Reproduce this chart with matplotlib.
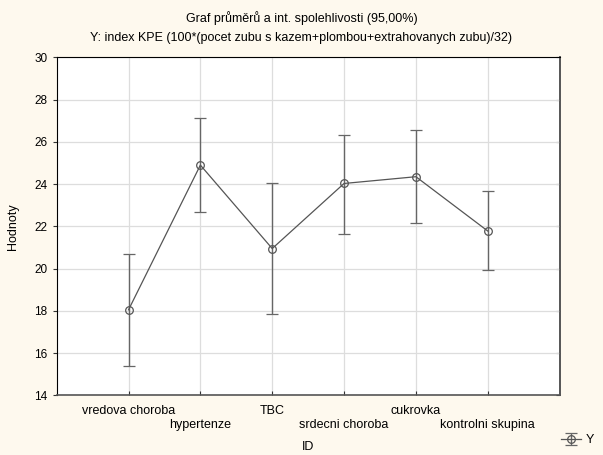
import matplotlib.pyplot as plt

plt.rcParams['font.family'] = ['Liberation Sans', 'DejaVu Sans']

# data
groups = ['vredova choroba', 'hypertenze', 'TBC', 'srdecni choroba', 'cukrovka', 'kontrolni skupina']
means = [18.05, 24.90, 20.95, 24.03, 24.35, 21.78]
upper = [20.69, 27.12, 24.03, 26.33, 26.54, 23.65]
lower = [15.39, 22.70, 17.87, 21.65, 22.16, 19.92]
yticks = [14, 16, 18, 20, 22, 24, 26, 28, 30]

bg = '#fef9ee'
x = list(range(1, len(groups) + 1))
err = [[m - l for m, l in zip(means, lower)], [u - m for m, u in zip(means, upper)]]

fig = plt.figure(figsize=(6.03, 4.55), dpi=100, facecolor=bg)
ax = fig.add_axes([0.094, 0.131, 0.834, 0.743])
ax.set_facecolor('white')

eb = ax.errorbar(x, means, yerr=err, fmt='-o', color='#555555', ecolor='#666666',
                 elinewidth=1.0, capsize=4, capthick=1.0, lw=0.9,
                 markersize=5.5, markerfacecolor='none', markeredgecolor='#555555',
                 markeredgewidth=0.9, label='Y')

ax.set_xlim(0, 7)
ax.set_ylim(14, 30)
ax.set_yticks(yticks)
ax.set_xticks(x)
ax.set_xticklabels([g if i % 2 == 0 else '\n' + g for i, g in enumerate(groups)],
                   linespacing=1.2)
ax.grid(True, color='#dddddd', lw=0.9)
ax.set_axisbelow(True)
ax.tick_params(axis='x', direction='in', labelsize=9, color='#333333', length=3, pad=7)
ax.tick_params(axis='y', which='both', left=True, right=False, direction='out',
               labelsize=8.5, color='#333333', length=3)
ax2 = ax.secondary_yaxis('right')
ax2.set_yticks(yticks)
ax2.tick_params(direction='in', length=3, labelright=False, color='#333333')
ax2.spines['right'].set_color('#555555')
ax2.spines['right'].set_linewidth(1.2)
for side in ['left', 'top']:
    ax.spines[side].set_color('black')
for side in ['bottom', 'right']:
    ax.spines[side].set_color('#555555')
    ax.spines[side].set_linewidth(1.2)

ax.set_xlabel('ID', fontsize=9, labelpad=7)
ax.set_ylabel('Hodnoty', fontsize=9, labelpad=11)
fig.suptitle('Graf průměrů a int. spolehlivosti (95,00%)\n'
             'Y: index KPE (100*(pocet zubu s kazem+plombou+extrahovanych zubu)/32)',
             fontsize=9, y=0.975, linespacing=1.8)

fig.legend(handles=[eb], loc='lower right', bbox_to_anchor=(1.0, 0.0), frameon=False,
           fontsize=9, handlelength=1.6, handletextpad=0.4, borderaxespad=0.1,
           borderpad=0.6)

fig.savefig('out.png', dpi=100, facecolor=bg)
